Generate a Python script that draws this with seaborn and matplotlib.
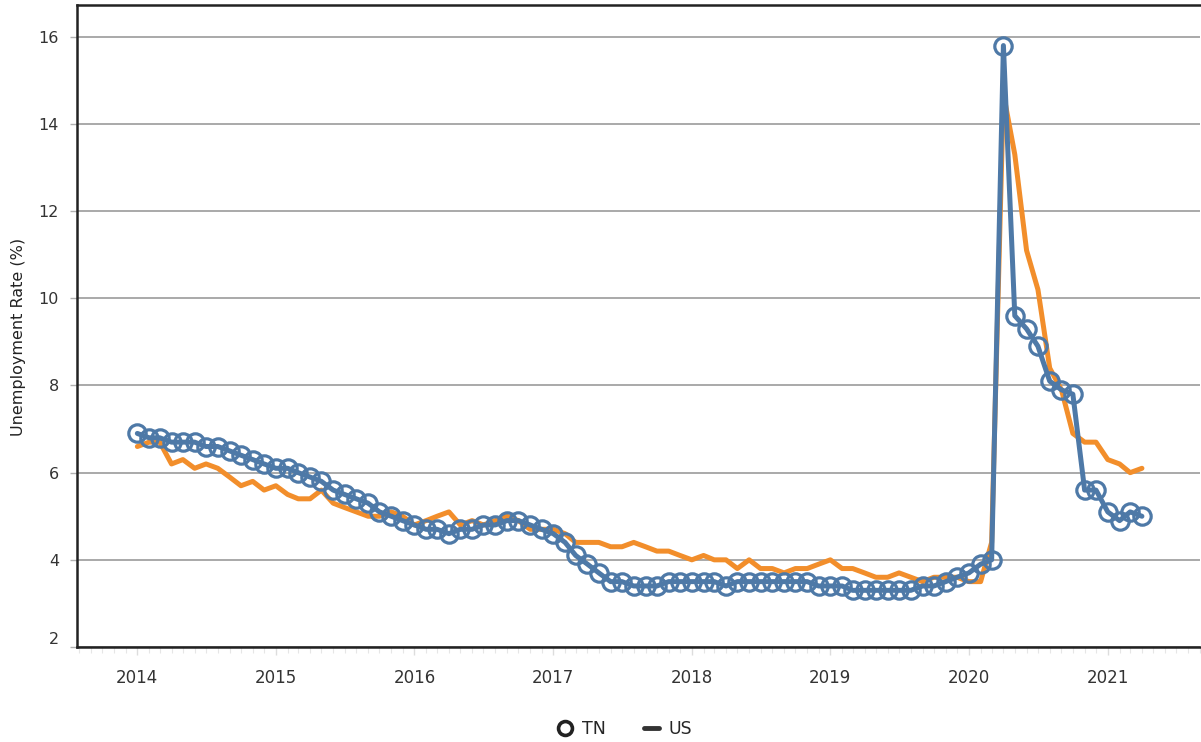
import matplotlib
matplotlib.use("Agg")
import matplotlib.pyplot as plt
import matplotlib.dates as mdates
from matplotlib.lines import Line2D
import seaborn as sns
import pandas as pd

# Monthly unemployment rate, Jan 2014 - Apr 2021
months = pd.date_range("2014-01-01", periods=88, freq="MS")

tn_rate = [
    6.9, 6.8, 6.8, 6.7, 6.7, 6.7, 6.6, 6.6, 6.5, 6.4, 6.3, 6.2,   # 2014
    6.1, 6.1, 6.0, 5.9, 5.8, 5.6, 5.5, 5.4, 5.3, 5.1, 5.0, 4.9,   # 2015
    4.8, 4.7, 4.7, 4.6, 4.7, 4.7, 4.8, 4.8, 4.9, 4.9, 4.8, 4.7,   # 2016
    4.6, 4.4, 4.1, 3.9, 3.7, 3.5, 3.5, 3.4, 3.4, 3.4, 3.5, 3.5,   # 2017
    3.5, 3.5, 3.5, 3.4, 3.5, 3.5, 3.5, 3.5, 3.5, 3.5, 3.5, 3.4,   # 2018
    3.4, 3.4, 3.3, 3.3, 3.3, 3.3, 3.3, 3.3, 3.4, 3.4, 3.5, 3.6,   # 2019
    3.7, 3.9, 4.0, 15.8, 9.6, 9.3, 8.9, 8.1, 7.9, 7.8, 5.6, 5.6,  # 2020
    5.1, 4.9, 5.1, 5.0,                                           # 2021
]

us_rate = [
    6.6, 6.7, 6.7, 6.2, 6.3, 6.1, 6.2, 6.1, 5.9, 5.7, 5.8, 5.6,
    5.7, 5.5, 5.4, 5.4, 5.6, 5.3, 5.2, 5.1, 5.0, 5.0, 5.1, 5.0,
    4.8, 4.9, 5.0, 5.1, 4.8, 4.9, 4.8, 4.9, 5.0, 4.9, 4.7, 4.7,
    4.7, 4.6, 4.4, 4.4, 4.4, 4.3, 4.3, 4.4, 4.3, 4.2, 4.2, 4.1,
    4.0, 4.1, 4.0, 4.0, 3.8, 4.0, 3.8, 3.8, 3.7, 3.8, 3.8, 3.9,
    4.0, 3.8, 3.8, 3.7, 3.6, 3.6, 3.7, 3.6, 3.5, 3.6, 3.6, 3.6,
    3.5, 3.5, 4.4, 14.7, 13.3, 11.1, 10.2, 8.4, 7.9, 6.9, 6.7, 6.7,
    6.3, 6.2, 6.0, 6.1,
]

y_ticks = [2, 4, 6, 8, 10, 12, 14, 16]

TN_BLUE = "#4e79a7"
US_ORANGE = "#f28e2b"

sns.set_style("white")
plt.rcParams["font.family"] = ["DejaVu Sans"]
NARROW = ["Liberation Sans Narrow", "DejaVu Sans"]

fig = plt.figure(figsize=(12.01, 7.42), dpi=100)
ax = fig.add_axes([77 / 1201, 1 - 647 / 742, 1123 / 1201, 642 / 742])

df = pd.DataFrame({"month": months, "TN": tn_rate, "US": us_rate})

# US first so TN sits on top
sns.lineplot(data=df, x="month", y="US", color=US_ORANGE, lw=3.6, ax=ax,
             zorder=2)
sns.lineplot(data=df, x="month", y="TN", color=TN_BLUE, lw=3.6, ax=ax,
             marker="o", markersize=12.5, markerfacecolor="none",
             markeredgecolor=TN_BLUE, markeredgewidth=2.3, zorder=3)

ax.set_ylim(2.0, 16.73)
ax.set_xlim(pd.Timestamp("2013-07-26"), pd.Timestamp("2021-09-01"))
ax.set_yticks(y_ticks)
ax.yaxis.grid(True, color="#a3a3a3", lw=1.3)
ax.xaxis.grid(False)
ax.set_axisbelow(True)

ax.xaxis.set_major_locator(mdates.YearLocator())
ax.xaxis.set_major_formatter(mdates.DateFormatter("%Y"))
ax.xaxis.set_minor_locator(mdates.MonthLocator())

ax.tick_params(axis="y", length=5, width=1, color="#b0b0b0", pad=8,
               labelsize=11.5, labelcolor="#333333", left=True)
ax.tick_params(axis="x", which="major", length=6, width=1, color="#dddddd",
               pad=10, labelsize=12, labelcolor="#333333", bottom=True)
ax.tick_params(axis="x", which="minor", length=4, width=0.8,
               color="#e6e6e6", bottom=True)
for lab in ax.get_xticklabels():
    lab.set_family(NARROW)
# keep the bottom label inside the frame like the original
ax.get_yticklabels()[0].set_verticalalignment("bottom")

for side in ["left", "bottom", "top"]:
    ax.spines[side].set_visible(True)
    ax.spines[side].set_color("#222222")
    ax.spines[side].set_linewidth(1.8)
ax.spines["right"].set_visible(False)

ax.set_xlabel("")
ax.set_ylabel("Unemployment Rate (%)", fontsize=11.5, color="#222222")
ax.yaxis.set_label_coords(-0.045, 0.483)

handles = [
    Line2D([], [], marker="o", linestyle="none", markersize=10,
           markerfacecolor="none", markeredgecolor="#222222",
           markeredgewidth=2.6),
    Line2D([], [], color="#333333", lw=3.5),
]
fig.legend(handles, ["TN", "US"], loc="center", bbox_to_anchor=(0.52, 0.018),
           ncol=2, frameon=False, handlelength=0.9, handletextpad=0.5,
           columnspacing=2.2, prop={"family": NARROW, "size": 12.5})

fig.savefig("out.png", dpi=100)
